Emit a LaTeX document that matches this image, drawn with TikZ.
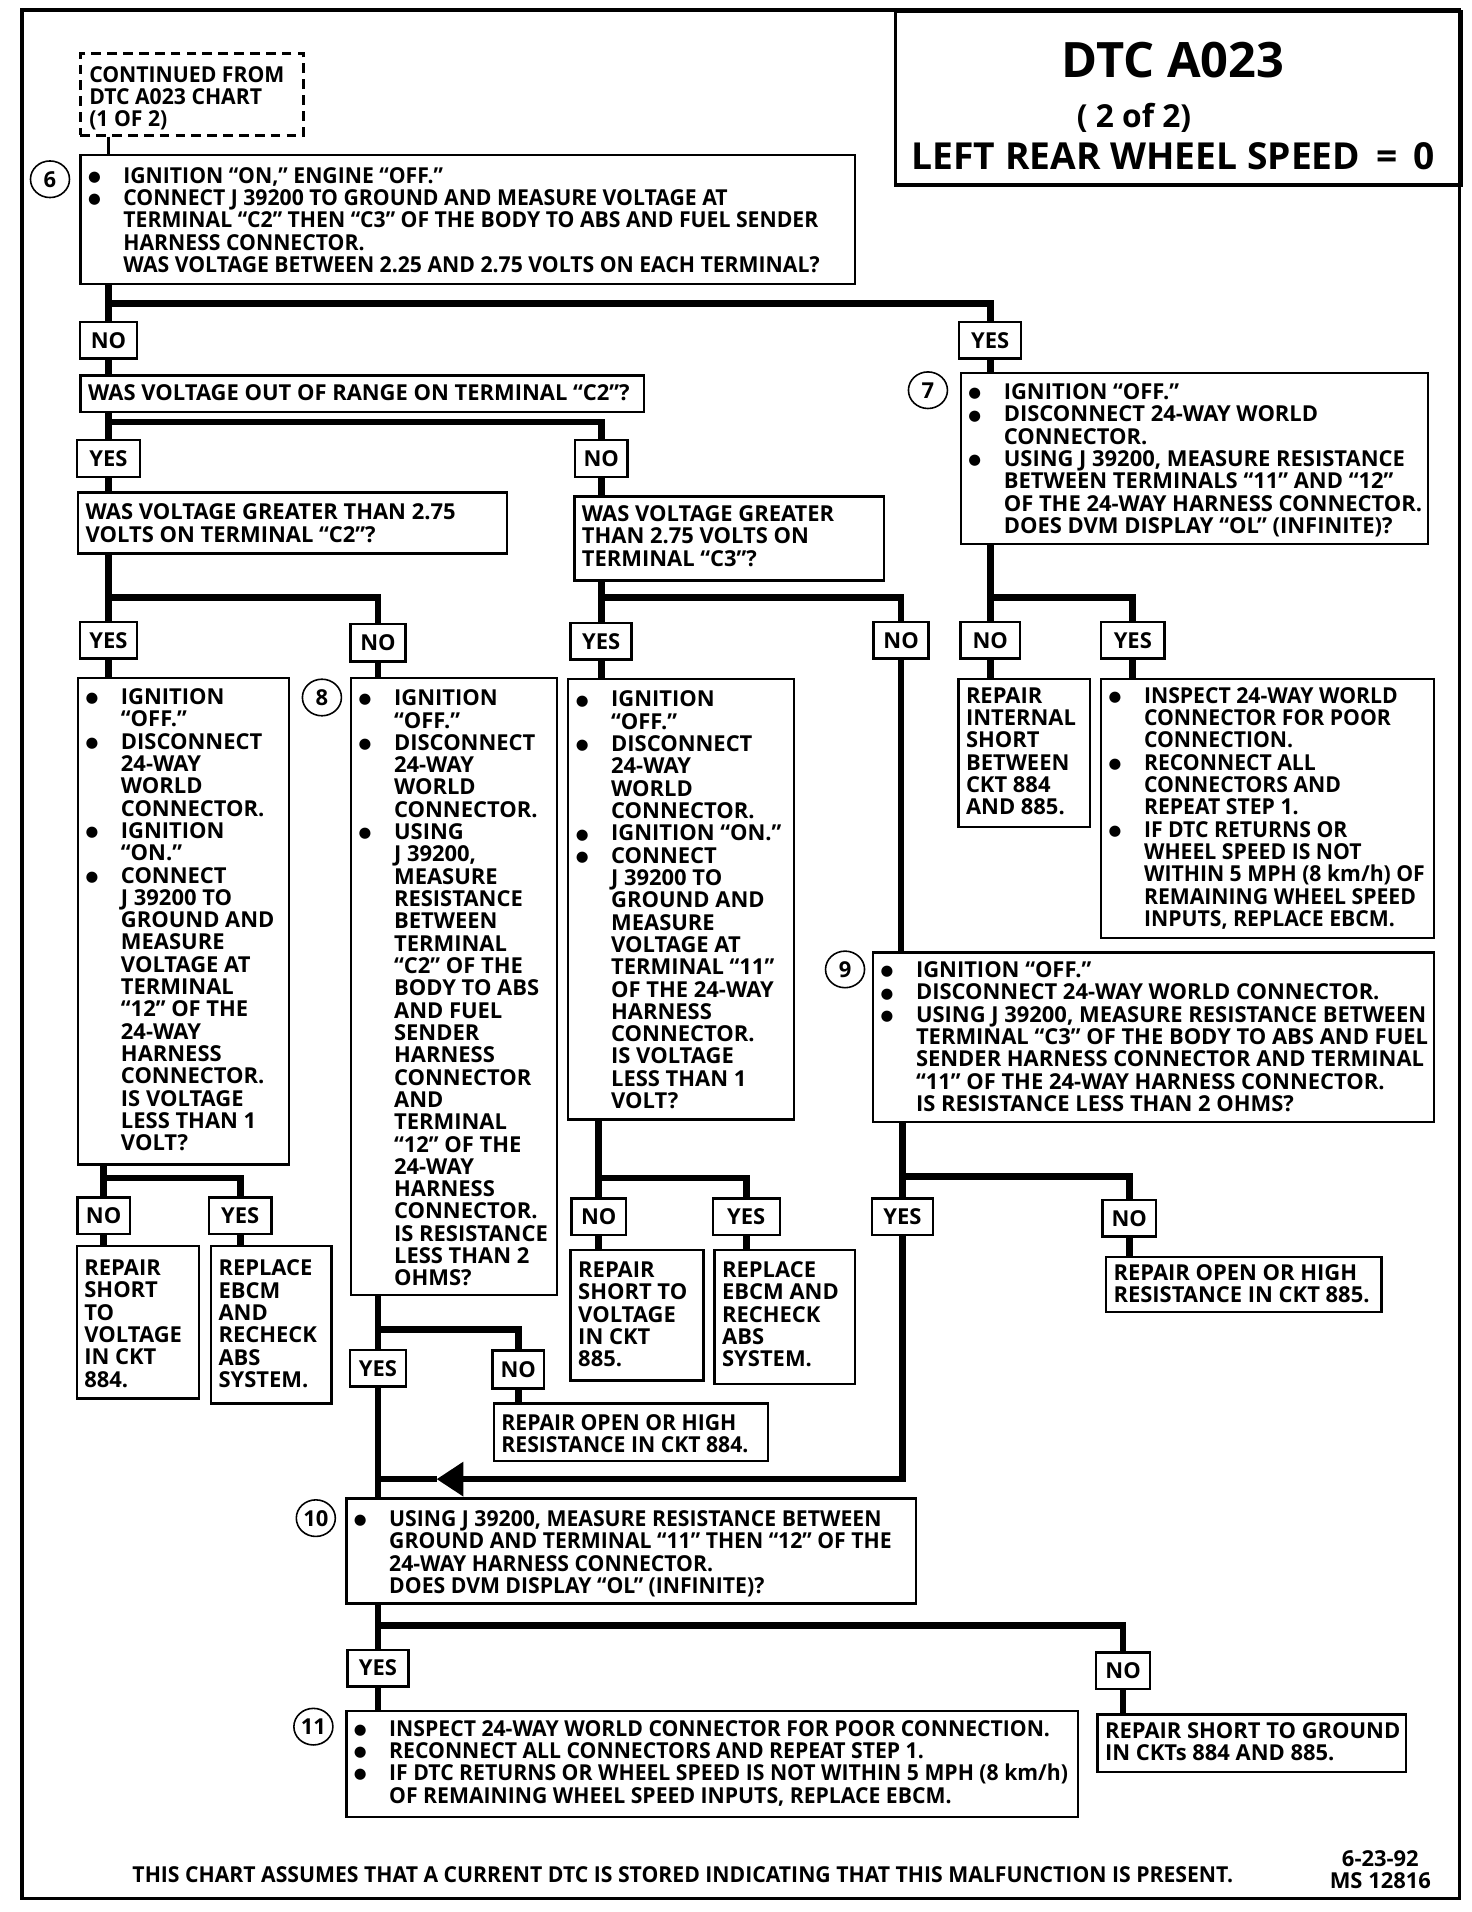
\documentclass[tikz,border=0pt]{standalone}
\usepackage{fontspec}
\setmainfont{Open Sans}
\newfontfamily\condf{Open Sans}[FakeStretch=0.965]
\newfontfamily\symf{DejaVu Sans}
\usetikzlibrary{shapes.geometric,arrows.meta,positioning,calc}

% bullet and hanging indent for the step boxes
\newcommand\bl{\makebox[29pt][l]{\raisebox{1.5pt}{\symf\mdseries\fontsize{12}{12}\selectfont ●}}}
\newcommand\ct{\hspace*{29pt}}

\begin{document}
\begin{tikzpicture}[x=1pt, y=-1pt,
    font=\bfseries\fontsize{18}{18.3}\selectfont,
    box/.style={draw, line width=2pt, anchor=north west, inner sep=0pt},
    txt/.style={anchor=north west, align=left, inner sep=0pt},
    ctxt/.style={txt, font=\condf\bfseries\fontsize{18}{18.3}\selectfont},
    lbl/.style={draw, line width=2pt, inner sep=0pt, minimum height=30pt},
    num/.style={draw, ellipse, line width=1.3pt, minimum width=32pt, minimum height=30pt, inner sep=0pt},
    ln/.style={line width=5.5pt},
]
\useasboundingbox (0,0) rectangle (1207,1568);

% ===== frame and title =====
\draw[line width=3pt] (18,8) rectangle (1197,1557);
\node[box, line width=3pt, minimum width=464pt, minimum height=142pt] (title) at (733,8) {};
\node[font=\bfseries\fontsize{40}{40}\selectfont] (ttl1) at (962,49) {DTC A023};
\node[font=\bfseries\fontsize{26}{26}\selectfont] (ttl2) at (930,97) {( 2 of 2)};
\node[font=\bfseries\fontsize{30.5}{30.5}\selectfont] (ttl3) at (962,128) {LEFT REAR WHEEL SPEED \,=\, 0};

% ===== step 6 =====
\node[box, dashed, dash pattern=on 8pt off 5pt, minimum width=183pt, minimum height=67pt] (cont) at (65,43) {};
\node[ctxt] (contt) at ([shift={(8,11)}]cont.north west) {CONTINUED FROM\\DTC A023 CHART\\(1 OF 2)};

\node[box, minimum width=635pt, minimum height=106pt] (s6) at (65,126) {};
\node[ctxt] (s6t) at ([shift={(7,11)}]s6.north west)
    {\bl IGNITION “ON,” ENGINE “OFF.”\\
     \bl CONNECT J 39200 TO GROUND AND MEASURE VOLTAGE AT\\
     \ct TERMINAL “C2” THEN “C3” OF THE BODY TO ABS AND FUEL SENDER\\
     \ct HARNESS CONNECTOR.\\
     \ct WAS VOLTAGE BETWEEN 2.25 AND 2.75 VOLTS ON EACH TERMINAL?};
\node[num] (n6) at (41,147) {6};

\node[lbl, minimum width=47pt] (no1) at (89,279) {NO};
\node[lbl, minimum width=51pt] (yes1) at (812,279) {YES};

\node[box, minimum width=462pt, minimum height=30pt] (q1) at (65,307) {};
\node[txt] (q1t) at ([shift={(7,8.5)}]q1.north west) {WAS VOLTAGE OUT OF RANGE ON TERMINAL “C2”?};

\node[lbl, minimum width=52pt] (yes2) at (89,376) {YES};
\node[lbl, minimum width=43pt] (no2) at (493,376) {NO};

\node[box, minimum width=352pt, minimum height=50pt] (q2) at (63,403) {};
\node[txt] (q2t) at ([shift={(7,10)}]q2.north west) {WAS VOLTAGE GREATER THAN 2.75\\VOLTS ON TERMINAL “C2”?};
\node[box, minimum width=254pt, minimum height=69pt] (q3) at (470,406) {};
\node[txt] (q3t) at ([shift={(7,8.5)}]q3.north west) {WAS VOLTAGE GREATER\\THAN 2.75 VOLTS ON\\TERMINAL “C3”?};

\node[lbl, minimum width=47pt] (yes3) at (89,525) {YES};
\node[lbl, minimum width=45pt, minimum height=31pt] (no3) at (310,527) {NO};
\node[lbl, minimum width=50pt] (yes4) at (493,526) {YES};
\node[lbl, minimum width=45pt] (no4) at (739,525) {NO};

\coordinate (j6) at (89,249);
\coordinate (j1) at (89,346);
\coordinate (j2) at (89,490);
\coordinate (j3) at (493,490);
\draw[line width=3pt] (cont.south -| j6) -- (s6.north -| j6);
\draw[ln] (s6.south -| j6) -- (j6) -| (yes1.north);
\draw[ln] (j6) -- (no1.north);
\draw[ln] (no1.south) -- (no1.south |- q1.north);
\draw[ln] (q1.south -| j1) -- (j1) -| (no2.north);
\draw[ln] (j1) -- (yes2.north);
\draw[ln] (yes2.south) -- (yes2.south |- q2.north);
\draw[ln] (no2.south) -- (no2.south |- q3.north);
\draw[ln] (q2.south -| j2) -- (j2) -| (no3.north);
\draw[ln] (j2) -- (yes3.north);
\draw[ln] (q3.south -| j3) -- (j3) -| (no4.north);
\draw[ln] (j3) -- (yes4.north);

% ===== step 7 =====
\node[box, minimum width=383pt, minimum height=140pt] (s7) at (787,305) {};
\node[txt] (s7t) at ([shift={(7,9.5)}]s7.north west)
    {\bl IGNITION “OFF.”\\
     \bl DISCONNECT 24-WAY WORLD\\
     \ct CONNECTOR.\\
     \bl USING J 39200, MEASURE RESISTANCE\\
     \ct BETWEEN TERMINALS “11” AND “12”\\
     \ct OF THE 24-WAY HARNESS CONNECTOR.\\
     \ct DOES DVM DISPLAY “OL” (INFINITE)?};
\node[num] (n7) at (761,320) {7};

\node[lbl, minimum width=49pt] (no7) at (812,525) {NO};
\node[lbl, minimum width=52pt] (yes7) at (929,525) {YES};

\node[box, minimum width=108pt, minimum height=121pt] (r7n) at (785,556) {};
\node[txt] (r7nt) at ([shift={(7,7.5)}]r7n.north west) {REPAIR\\INTERNAL\\SHORT\\BETWEEN\\CKT 884\\AND 885.};
\node[box, minimum width=273pt, minimum height=212pt] (r7y) at (902,556) {};
\node[ctxt] (r7yt) at ([shift={(7,7.5)}]r7y.north west)
    {\bl INSPECT 24-WAY WORLD\\
     \ct CONNECTOR FOR POOR\\
     \ct CONNECTION.\\
     \bl RECONNECT ALL\\
     \ct CONNECTORS AND\\
     \ct REPEAT STEP 1.\\
     \bl IF DTC RETURNS OR\\
     \ct WHEEL SPEED IS NOT\\
     \ct WITHIN 5 MPH (8 km/h) OF\\
     \ct REMAINING WHEEL SPEED\\
     \ct INPUTS, REPLACE EBCM.};

\coordinate (j7) at (812,490);
\draw[ln] (yes1.south) -- (yes1.south |- s7.north);
\draw[ln] (s7.south -| j7) -- (j7) -| (yes7.north);
\draw[ln] (j7) -- (no7.north);
\draw[ln] (no7.south) -- (no7.south |- r7n.north);
\draw[ln] (yes7.south) -- (yes7.south |- r7y.north);

% ===== middle columns =====
\node[box, minimum width=173pt, minimum height=399pt] (c2y) at (63,555) {};
\node[txt] (c2yt) at ([shift={(7,9.5)}]c2y.north west)
    {\bl IGNITION\\ \ct “OFF.”\\
     \bl DISCONNECT\\ \ct 24-WAY\\ \ct WORLD\\ \ct CONNECTOR.\\
     \bl IGNITION\\ \ct “ON.”\\
     \bl CONNECT\\ \ct J 39200 TO\\ \ct GROUND AND\\ \ct MEASURE\\ \ct VOLTAGE AT\\
     \ct TERMINAL\\ \ct “12” OF THE\\ \ct 24-WAY\\ \ct HARNESS\\ \ct CONNECTOR.\\
     \ct IS VOLTAGE\\ \ct LESS THAN 1\\ \ct VOLT?};

\node[box, minimum width=169pt, minimum height=506pt] (s8) at (287,555) {};
\node[txt] (s8t) at ([shift={(7,10.5)}]s8.north west)
    {\bl IGNITION\\ \ct “OFF.”\\
     \bl DISCONNECT\\ \ct 24-WAY\\ \ct WORLD\\ \ct CONNECTOR.\\
     \bl USING\\ \ct J 39200,\\ \ct MEASURE\\ \ct RESISTANCE\\ \ct BETWEEN\\
     \ct TERMINAL\\ \ct “C2” OF THE\\ \ct BODY TO ABS\\ \ct AND FUEL\\ \ct SENDER\\
     \ct HARNESS\\ \ct CONNECTOR\\ \ct AND\\ \ct TERMINAL\\ \ct “12” OF THE\\
     \ct 24-WAY\\ \ct HARNESS\\ \ct CONNECTOR.\\ \ct IS RESISTANCE\\
     \ct LESS THAN 2\\ \ct OHMS?};
\node[num] (n8) at (264,572) {8};

\node[box, minimum width=185pt, minimum height=361pt] (c3y) at (465,556) {};
\node[txt] (c3yt) at ([shift={(7,10.5)}]c3y.north west)
    {\bl IGNITION\\ \ct “OFF.”\\
     \bl DISCONNECT\\ \ct 24-WAY\\ \ct WORLD\\ \ct CONNECTOR.\\
     \bl IGNITION “ON.”\\
     \bl CONNECT\\ \ct J 39200 TO\\ \ct GROUND AND\\ \ct MEASURE\\ \ct VOLTAGE AT\\
     \ct TERMINAL “11”\\ \ct OF THE 24-WAY\\ \ct HARNESS\\ \ct CONNECTOR.\\
     \ct IS VOLTAGE\\ \ct LESS THAN 1\\ \ct VOLT?};

\draw[ln] (yes3.south) -- (yes3.south |- c2y.north);
\draw[ln] (no3.south) -- (no3.south |- s8.north);
\draw[ln] (yes4.south) -- (yes4.south |- c3y.north);

% ===== step 9 =====
\node[box, minimum width=460pt, minimum height=139pt] (s9) at (715,780) {};
\node[txt] (s9t) at ([shift={(7,8.5)}]s9.north west)
    {\bl IGNITION “OFF.”\\
     \bl DISCONNECT 24-WAY WORLD CONNECTOR.\\
     \bl USING J 39200, MEASURE RESISTANCE BETWEEN\\
     \ct TERMINAL “C3” OF THE BODY TO ABS AND FUEL\\
     \ct SENDER HARNESS CONNECTOR AND TERMINAL\\
     \ct “11” OF THE 24-WAY HARNESS CONNECTOR.\\
     \ct IS RESISTANCE LESS THAN 2 OHMS?};
\node[num] (n9) at (693,795) {9};
\draw[ln] (no4.south) -- (no4.south |- s9.north);

% ===== result rows =====
\node[lbl, minimum width=43pt] (no5) at (85,997) {NO};
\node[lbl, minimum width=51pt] (yes5) at (197,997) {YES};
\node[box, minimum width=100pt, minimum height=125pt] (r5n) at (62,1021) {};
\node[txt] (r5nt) at ([shift={(7,12)}]r5n.north west) {REPAIR\\SHORT\\TO\\VOLTAGE\\IN CKT\\884.};
\node[box, minimum width=99pt, minimum height=129pt] (r5y) at (172,1021) {};
\node[txt] (r5yt) at ([shift={(7,12)}]r5y.north west) {REPLACE\\EBCM\\AND\\RECHECK\\ABS\\SYSTEM.};

\node[lbl, minimum width=45pt] (no6) at (491,998) {NO};
\node[lbl, minimum width=55pt] (yes6) at (612,998) {YES};
\node[box, minimum width=109pt, minimum height=107pt] (r6n) at (467,1024) {};
\node[txt] (r6nt) at ([shift={(7,10.5)}]r6n.north west) {REPAIR\\SHORT TO\\VOLTAGE\\IN CKT\\885.};
\node[box, minimum width=115pt, minimum height=110pt] (r6y) at (585,1024) {};
\node[txt] (r6yt) at ([shift={(7,10.5)}]r6y.north west) {REPLACE\\EBCM AND\\RECHECK\\ABS\\SYSTEM.};

\node[lbl, minimum width=50pt] (yes9) at (740,998) {YES};
\node[lbl, minimum width=44pt] (no9) at (926,999) {NO};
\node[box, minimum width=226pt, minimum height=45pt] (r9n) at (906,1030) {};
\node[txt] (r9nt) at ([shift={(7,6.5)}]r9n.north west) {REPAIR OPEN OR HIGH\\RESISTANCE IN CKT 885.};

\node[lbl, minimum width=46pt] (yes8) at (310,1122) {YES};
\node[lbl, minimum width=42pt, minimum height=31pt] (no8) at (425,1123) {NO};
\node[box, minimum width=225pt, minimum height=47pt] (r8n) at (404,1150) {};
\node[ctxt] (r8nt) at ([shift={(7,10)}]r8n.north west) {REPAIR OPEN OR HIGH\\RESISTANCE IN CKT 884.};

\coordinate (j8) at (85,966);
\coordinate (j9) at (491,966);
\coordinate (j10) at (740,965);
\coordinate (j11) at (310,1090);
\draw[ln] (c2y.south -| j8) -- (j8) -| (yes5.north);
\draw[ln] (j8) -- (no5.north);
\draw[ln] (no5.south) -- (no5.south |- r5n.north);
\draw[ln] (yes5.south) -- (yes5.south |- r5y.north);
\draw[ln] (c3y.south -| j9) -- (j9) -| (yes6.north);
\draw[ln] (j9) -- (no6.north);
\draw[ln] (no6.south) -- (no6.south |- r6n.north);
\draw[ln] (yes6.south) -- (yes6.south |- r6y.north);
\draw[ln] (s9.south -| j10) -- (j10) -| (no9.north);
\draw[ln] (j10) -- (yes9.north);
\draw[ln] (no9.south) -- (no9.south |- r9n.north);
\draw[ln] (s8.south -| j11) -- (j11) -| (no8.north);
\draw[ln] (j11) -- (yes8.north);
\draw[ln] (no8.south) -- (no8.south |- r8n.north);

% ===== step 10 =====
\node[box, minimum width=467pt, minimum height=86pt] (s10) at (283,1228) {};
\node[ctxt] (s10t) at ([shift={(7,10.5)}]s10.north west)
    {\bl USING J 39200, MEASURE RESISTANCE BETWEEN\\
     \ct GROUND AND TERMINAL “11” THEN “12” OF THE\\
     \ct 24-WAY HARNESS CONNECTOR.\\
     \ct DOES DVM DISPLAY “OL” (INFINITE)?};
\node[num] (n10) at (259,1245) {10};

\coordinate (a10) at (358,1213);
\draw[ln] (yes8.south) -- (yes8.south |- s10.north);
\draw[ln, -{Triangle[length=22pt, width=27pt]}] (yes9.south) |- (a10);
\draw[ln] (a10) -- (a10 -| yes8.south);

% ===== step 11 =====
\node[lbl, minimum width=50pt] (yes10) at (310,1368) {YES};
\node[lbl, minimum width=44pt] (no10) at (921,1370) {NO};

\node[box, minimum width=600pt, minimum height=87pt] (s11) at (283,1402) {};
\node[ctxt] (s11t) at ([shift={(7,8.5)}]s11.north west)
    {\bl INSPECT 24-WAY WORLD CONNECTOR FOR POOR CONNECTION.\\
     \bl RECONNECT ALL CONNECTORS AND REPEAT STEP 1.\\
     \bl IF DTC RETURNS OR WHEEL SPEED IS NOT WITHIN 5 MPH (8 km/h)\\
     \ct OF REMAINING WHEEL SPEED INPUTS, REPLACE EBCM.};
\node[num] (n11) at (257,1416) {11};

\node[box, minimum width=253pt, minimum height=47pt] (r10n) at (899,1405) {};
\node[txt] (r10nt) at ([shift={(7,7.5)}]r10n.north west) {REPAIR SHORT TO GROUND\\IN CKTs 884 AND 885.};

\coordinate (j13) at (310,1333);
\draw[ln] (s10.south -| j13) -- (j13) -| (no10.north);
\draw[ln] (j13) -- (yes10.north);
\draw[ln] (yes10.south) -- (yes10.south |- s11.north);
\draw[ln] (no10.south) -- (no10.south |- r10n.north);

% ===== footer =====
\node[font=\condf\bfseries\fontsize{18}{18.3}\selectfont] (foot) at (560,1537) {THIS CHART ASSUMES THAT A CURRENT DTC IS STORED INDICATING THAT THIS MALFUNCTION IS PRESENT.};
\node[align=center] (ms) at (1132,1533) {6-23-92\\MS 12816};

\end{tikzpicture}
\end{document}
